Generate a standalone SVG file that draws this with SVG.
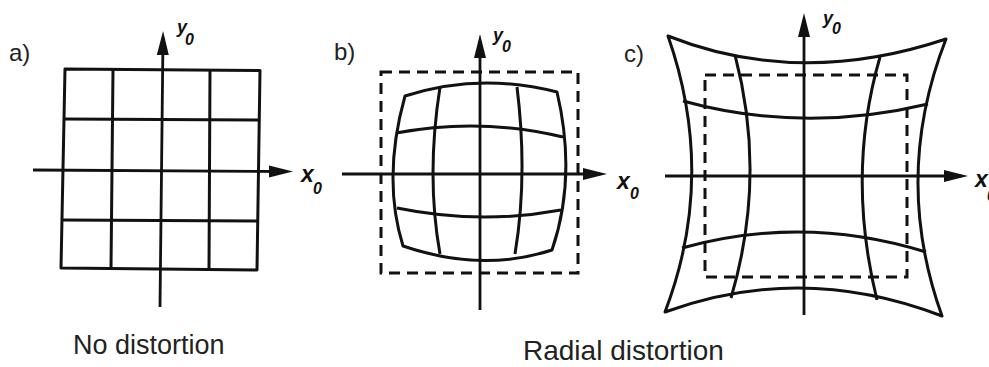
<svg xmlns="http://www.w3.org/2000/svg" width="989" height="367" viewBox="0 0 989 367">
  <style>
    .ln { fill: none; stroke: #111; stroke-width: 3; stroke-linejoin: round; }
    .ax { fill: none; stroke: #111; stroke-width: 2.8; }
    .dash { fill: none; stroke: #111; stroke-width: 3; stroke-dasharray: 11 7; }
    .lbl { font-family: "Liberation Sans", Arial, sans-serif; font-size: 24px; fill: #222; }
    .cap { font-family: "Liberation Sans", Arial, sans-serif; fill: #222; }
    .var { font-family: "Liberation Sans", Arial, sans-serif; font-weight: bold; font-style: italic; fill: #111; }
  </style>
  <defs>
    <marker id="arr" markerUnits="userSpaceOnUse" markerWidth="26" markerHeight="14" refX="17" refY="6" orient="auto">
      <path d="M0,0 L24,6 L0,12 z" fill="#111"/>
    </marker>
  </defs>
  <rect width="989" height="367" fill="#fff"/>

  <!-- Panel a: no distortion -->
  <g id="panel-a">
    <path class="ln" d="M65,69 L260,70.5 L257,270 L61,268 Z"/>
    <path class="ln" d="M113,69.5 L111,268.5 M210,70 L209,269.5"/>
    <path class="ln" d="M64,119 L259,120 M62,220 L258,221"/>
    <text class="lbl" x="9" y="61">a)</text>
    <text class="var" x="177" y="33" font-size="18">y</text>
    <text class="var" x="185" y="45" font-size="16">0</text>
    <text class="var" x="301" y="182" font-size="23">x</text>
    <text class="var" x="313" y="194" font-size="16">0</text>
  </g>

  <!-- Panel b: barrel distortion -->
  <g id="panel-b">
    <rect class="dash" x="381" y="72" width="197" height="201"/>
    <path class="ln" d="M405,96 Q479,72 557,92 Q577,177 552,250 Q482,273 403,246 Q382,178 405,96 Z"/>
    <path class="ln" d="M396,133 Q480,117 563,137 M397,208 Q480,225 561,210"/>
    <path class="ln" d="M440,87 Q426,176 440,254 M517,87 Q528,176 515,254"/>
    <text class="lbl" x="334" y="60">b)</text>
    <text class="var" x="493" y="41" font-size="18">y</text>
    <text class="var" x="502" y="52" font-size="16">0</text>
    <text class="var" x="617" y="189" font-size="23">x</text>
    <text class="var" x="630" y="199" font-size="16">0</text>
  </g>

  <!-- Panel c: pincushion distortion -->
  <g id="panel-c">
    <rect class="dash" x="705" y="75" width="202" height="202"/>
    <path class="ln" d="M668,36 Q799,88 946,39 Q892,177 942,316 Q802,262 665,312 Q717,176 668,36 Z"/>
    <path class="ln" d="M683,101 Q803,134 928,104 M682,248 Q804,214 926,252"/>
    <path class="ln" d="M735,55 Q767,176 731,298 M880,57 Q846,174 877,300"/>
    <text class="lbl" x="624" y="62">c)</text>
    <text class="var" x="823" y="24" font-size="18">y</text>
    <text class="var" x="832" y="34" font-size="16">0</text>
    <text class="var" x="975" y="187" font-size="23">x</text>
    <text class="var" x="987" y="201" font-size="16">0</text>
  </g>

  <!-- Axes (connectors) -->
  <g id="axes">
    <line class="ax" x1="160" y1="307" x2="163" y2="38" marker-end="url(#arr)"/>
    <line class="ax" x1="33" y1="170" x2="286" y2="171.5" marker-end="url(#arr)"/>
    <line class="ax" x1="480" y1="310" x2="480" y2="41" marker-end="url(#arr)"/>
    <line class="ax" x1="342" y1="174" x2="600" y2="174" marker-end="url(#arr)"/>
    <line class="ax" x1="804" y1="315" x2="804" y2="20" marker-end="url(#arr)"/>
    <line class="ax" x1="665" y1="176" x2="961" y2="176" marker-end="url(#arr)"/>
  </g>

  <!-- Captions -->
  <g id="captions">
    <text class="cap" x="73" y="354" font-size="27">No distortion</text>
    <text class="cap" x="523" y="360" font-size="28">Radial distortion</text>
  </g>
</svg>
